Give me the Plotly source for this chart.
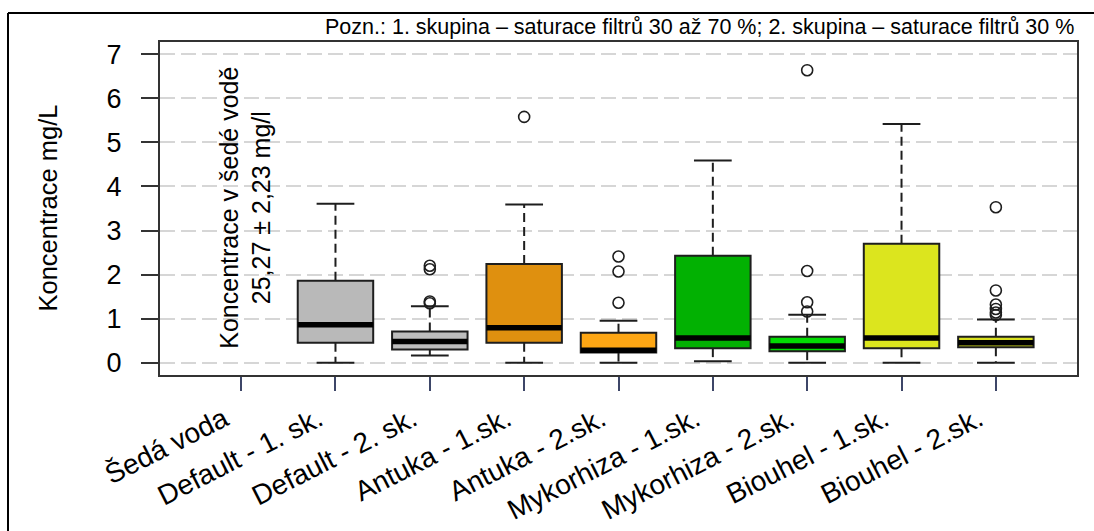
import plotly.graph_objects as go

# ---- data ---------------------------------------------------------------
categories = [
    "Šedá voda",
    "Default - 1. sk.",
    "Default - 2. sk.",
    "Antuka - 1.sk.",
    "Antuka - 2.sk.",
    "Mykorhiza - 1.sk.",
    "Mykorhiza - 2.sk.",
    "Biouhel - 1.sk.",
    "Biouhel - 2.sk.",
]
lower_whisker = [None, 0.00, 0.16, 0.00, 0.00, 0.03, 0.00, 0.00, 0.00]
q1 = [None, 0.45, 0.30, 0.45, 0.23, 0.33, 0.26, 0.33, 0.35]
median = [None, 0.86, 0.48, 0.79, 0.28, 0.56, 0.38, 0.56, 0.45]
q3 = [None, 1.86, 0.71, 2.24, 0.68, 2.43, 0.59, 2.70, 0.59]
upper_whisker = [None, 3.61, 1.28, 3.59, 0.95, 4.59, 1.09, 5.42, 0.98]
outliers = [
    [],
    [],
    [2.20, 2.12, 1.39, 1.35],
    [5.58],
    [2.41, 2.07, 1.36],
    [],
    [6.64, 2.08, 1.37, 1.16],
    [],
    [3.53, 1.64, 1.32, 1.22, 1.14, 1.08],
]
fill_colors = [None, "#B9B9B9", "#BDBDBD", "#DF900F", "#FDA614",
               "#02B102", "#02DB02", "#DCE51E", "#D8E01F"]

grey_water_label = "Koncentrace v šedé vodě<br>25,27 ± 2,23 mg/l"
grey_water_y = 3.52
y_title = "Koncentrace mg/L"
note = "Pozn.: 1. skupina – saturace filtrů 30 až 70 %; 2. skupina – saturace filtrů 30 %"
y_ticks = [0, 1, 2, 3, 4, 5, 6, 7]

# ---- layout constants -----------------------------------------------------
W, H = 1094, 531
ML, MR, MT, MB = 160, 17, 42, 156
PW, PH = W - ML - MR, H - MT - MB
BOX_W = 0.8
FONT = "Liberation Sans, Arial, Helvetica, sans-serif"
INK = "#1e1e1e"

def px_to_paper_x(px):
    return (px - ML) / PW

def px_to_paper_y(py):
    return 1 - (py - MT) / PH

positions = list(range(1, len(categories) + 1))

fig = go.Figure()

whisk_x, whisk_y, cap_x, cap_y, med_x, med_y = [], [], [], [], [], []
out_x, out_y = [], []
for i, pos in enumerate(positions):
    if q1[i] is None:
        continue
    fig.add_trace(go.Box(
        x=[pos], q1=[q1[i]], median=[median[i]], q3=[q3[i]],
        lowerfence=[q1[i]], upperfence=[q3[i]],
        width=BOX_W, whiskerwidth=0,
        fillcolor=fill_colors[i],
        line=dict(color=INK, width=2),
        boxpoints=False, hoverinfo="skip", showlegend=False,
    ))
    whisk_x += [pos, pos, None, pos, pos, None]
    whisk_y += [q3[i], upper_whisker[i], None, q1[i], lower_whisker[i], None]
    half_cap = BOX_W / 4
    cap_x += [pos - half_cap, pos + half_cap, None, pos - half_cap, pos + half_cap, None]
    cap_y += [upper_whisker[i], upper_whisker[i], None, lower_whisker[i], lower_whisker[i], None]
    med_x += [pos - BOX_W / 2, pos + BOX_W / 2, None]
    med_y += [median[i], median[i], None]
    out_x += [pos] * len(outliers[i])
    out_y += outliers[i]

fig.add_trace(go.Scatter(x=whisk_x, y=whisk_y, mode="lines",
                         line=dict(color=INK, width=2, dash="9px,5px"),
                         hoverinfo="skip", showlegend=False))
fig.add_trace(go.Scatter(x=cap_x, y=cap_y, mode="lines",
                         line=dict(color=INK, width=2),
                         hoverinfo="skip", showlegend=False))
fig.add_trace(go.Scatter(x=med_x, y=med_y, mode="lines",
                         line=dict(color="#000000", width=5.5),
                         hoverinfo="skip", showlegend=False))
fig.add_trace(go.Scatter(x=out_x, y=out_y, mode="markers",
                         marker=dict(symbol="circle-open", size=11, color=INK,
                                     line=dict(width=1.6, color=INK)),
                         hoverinfo="skip", showlegend=False))

# rotated label for the grey-water column
fig.add_annotation(x=1, y=grey_water_y, xref="x", yref="y", xshift=4,
                   text=grey_water_label, textangle=-90, showarrow=False,
                   align="center", font=dict(family=FONT, size=25, color="#000"))

# y-axis title
fig.add_annotation(x=px_to_paper_x(47), y=0.5, xref="paper", yref="paper",
                   text=y_title, textangle=-90, showarrow=False,
                   xanchor="center", yanchor="middle",
                   font=dict(family=FONT, size=25.5, color="#000"))

# note above the plot
fig.add_annotation(x=px_to_paper_x(1076), y=px_to_paper_y(27), xref="paper", yref="paper",
                   text=note, showarrow=False, xanchor="right", yanchor="middle",
                   font=dict(family=FONT, size=21.5, color="#000"))

# page frame (left and top edges)
fig.add_shape(type="line", xref="paper", yref="paper",
              x0=px_to_paper_x(8), x1=px_to_paper_x(8),
              y0=px_to_paper_y(13), y1=px_to_paper_y(H + 5),
              line=dict(color="#000", width=2))
fig.add_shape(type="line", xref="paper", yref="paper",
              x0=px_to_paper_x(8), x1=px_to_paper_x(W + 5),
              y0=px_to_paper_y(13), y1=px_to_paper_y(13),
              line=dict(color="#000", width=2))

fig.update_layout(
    width=W, height=H,
    margin=dict(l=ML, r=MR, t=MT, b=MB, autoexpand=False),
    paper_bgcolor="white", plot_bgcolor="white",
    showlegend=False,
    xaxis=dict(
        range=[0.14, 9.86], tickvals=positions, ticktext=categories,
        tickangle=-27, ticks="outside", ticklen=14, tickwidth=2, tickcolor="#3d4668",
        tickfont=dict(family=FONT, size=28, color="#000"),
        ticklabelshift=-17, ticklabelstandoff=1,
        showgrid=False, zeroline=False,
        showline=True, mirror=True, linecolor="#333", linewidth=2,
        automargin=False,
    ),
    yaxis=dict(
        range=[-0.28, 7.28], tickvals=y_ticks,
        ticks="outside", ticklen=17, tickwidth=2, tickcolor="#333",
        tickfont=dict(family=FONT, size=27, color="#000"),
        ticklabelstandoff=14,
        showgrid=True, gridcolor="#D6D6D6", gridwidth=1.5, griddash="15px,6px",
        zeroline=False,
        showline=True, mirror=True, linecolor="#333", linewidth=2,
        automargin=False,
    ),
)

fig.write_html("out.html")
